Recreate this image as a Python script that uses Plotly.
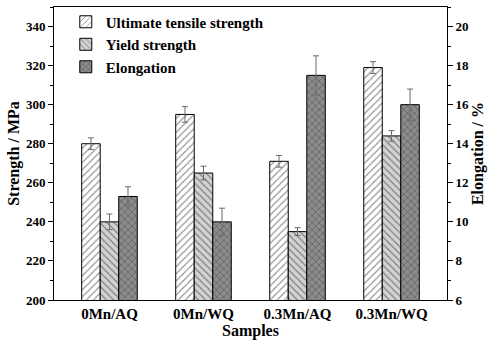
import plotly.graph_objects as go

samples = ["0Mn/AQ", "0Mn/WQ", "0.3Mn/AQ", "0.3Mn/WQ"]
uts = [280, 295, 271, 319]
uts_err = [3, 4, 3, 3]
ys = [240, 265, 235, 284]
ys_err = [4, 3.5, 2, 2.7]
elong = [11.3, 10.0, 17.5, 16.0]
elong_err = [0.5, 0.7, 1.0, 0.8]

FONT = "Liberation Serif"
bw = 0.197
err_style = dict(type="data", color="#6a6a6a", thickness=1, width=3, visible=True)

fig = go.Figure()
fig.add_trace(go.Bar(
    x=samples, y=uts, name="<b>Ultimate tensile strength</b>", width=bw, offset=-1.5 * bw,
    marker=dict(color="white", line=dict(color="black", width=1),
                pattern=dict(shape="/", fgcolor="#222222", bgcolor="white", size=5, solidity=0.22)),
    error_y=dict(array=uts_err, **err_style), yaxis="y"))
fig.add_trace(go.Bar(
    x=samples, y=ys, name="<b>Yield strength</b>", width=bw, offset=-0.5 * bw,
    marker=dict(color="#d2d2d2", line=dict(color="black", width=1),
                pattern=dict(shape="\\", fgcolor="#222222", bgcolor="#d2d2d2", size=5, solidity=0.22)),
    error_y=dict(array=ys_err, **err_style), yaxis="y"))
fig.add_trace(go.Bar(
    x=samples, y=elong, name="<b>Elongation</b>", width=bw, offset=0.5 * bw,
    marker=dict(color="#8c8c8c", line=dict(color="black", width=1),
                pattern=dict(shape="x", fgcolor="#1a1a1a", bgcolor="#8c8c8c", size=5, solidity=0.22)),
    error_y=dict(array=elong_err, **err_style), yaxis="y2"))

tickfont = dict(family=FONT, size=13, color="black", weight="bold")
xtickfont = dict(family=FONT, size=15, color="black", weight="bold")
titlefont = dict(family=FONT, size=16, color="black", weight="bold")

fig.update_layout(
    width=496, height=344,
    margin=dict(l=54, r=49, t=7, b=44, autoexpand=False),
    paper_bgcolor="white", plot_bgcolor="white",
    barmode="overlay",
    showlegend=True,
    font=dict(family=FONT, color="black"),
    legend=dict(x=0.03, y=1.005, xanchor="left", yanchor="top",
                font=dict(family=FONT, size=15, color="black", weight="bold"),
                bgcolor="rgba(0,0,0,0)", tracegroupgap=0, itemwidth=30),
    xaxis=dict(type="category", range=[-0.59, 3.59], showline=True, linecolor="black",
               linewidth=1, mirror=True, ticks="", tickfont=xtickfont,
               title=dict(text="<b>Samples</b>", font=titlefont, standoff=3)),
    yaxis=dict(range=[200, 350], dtick=20, tick0=200, showline=True, linecolor="black",
               linewidth=1, ticks="outside", ticklen=5, tickcolor="black", showgrid=False,
               zeroline=False, tickfont=tickfont,
               minor=dict(dtick=10, ticks="outside", ticklen=3, tickcolor="black", showgrid=False),
               title=dict(text="<b>Strength / MPa</b>", font=titlefont, standoff=2)),
    yaxis2=dict(range=[6, 21], dtick=2, tick0=6, overlaying="y", side="right",
                showline=True, linecolor="black", linewidth=1, ticks="outside", ticklen=5,
                tickcolor="black", showgrid=False, zeroline=False, tickfont=tickfont,
                minor=dict(dtick=1, ticks="outside", ticklen=3, tickcolor="black", showgrid=False),
                title=dict(text="<b>Elongation / %</b>", font=titlefont, standoff=0)),
)

fig.write_html("out.html", config={"displayModeBar": False},
               post_script="document.body.style.margin='0';")
